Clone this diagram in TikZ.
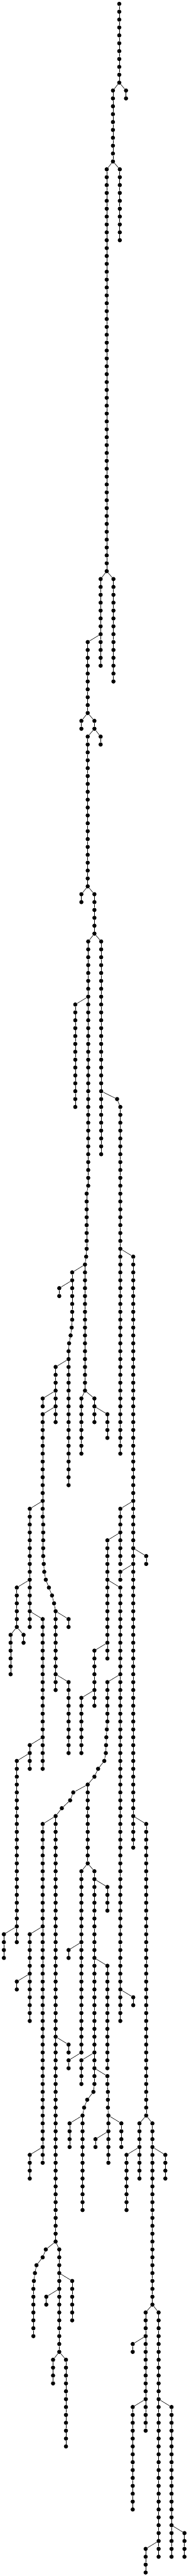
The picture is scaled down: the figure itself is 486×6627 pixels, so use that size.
\documentclass[tikz,border=0pt]{standalone}
\usepackage{tikz}
\tikzset{
	dot/.style={circle, fill=black, inner sep=0pt, minimum size=10.8pt}
}
\tikzset{
	link/.style={line width=1pt}
}
\newcommand{\rowy}[1]{-9.9-20.27*(#1)}
% straight run: [parent]{name}{x}{first row}{last row}
\newcommand{\stalk}[5][]{%
  \foreach \r in {#4,...,#5}
    \node[dot] (#2-\r) at (#3,{\rowy{\r}}) {};
  \ifx\relax#1\relax\else\draw[link] (#1) -- (#2-#4);\fi
  \foreach \r [remember=\r as \p (initially #4)] in {#4,...,#5}
    {\ifnum\r>#4\relax\draw[link] (#2-\p) -- (#2-\r);\fi}
}
% slanted run, one x per row: {name}{first row}{x list}
\newcommand{\kink}[3]{%
  \foreach \xx [count=\r from #2] in {#3}{
    \pgfmathtruncatemacro{\p}{\r-1}
    \node[dot] (#1-\r) at (\xx,{\rowy{\r}}) {};
    \draw[link] (#1-\p) -- (#1-\r);
  }
}
\begin{document}
\begin{tikzpicture}[x=1pt, y=1pt]
  \useasboundingbox (0,0) rectangle (486,-6627);
  % trunk
  \stalk{a}{307.3}{0}{10}
  \stalk[a-10]{b}{324.7}{11}{12}
  \stalk[a-10]{c}{291}{11}{20}
  \stalk[c-20]{d}{308.7}{21}{30}
  \stalk[c-20]{e}{275}{21}{72}
  \stalk[e-72]{f}{292.3}{73}{86}
  \stalk[e-72]{g}{259.3}{73}{84}
  \stalk[g-80]{h}{226}{81}{90}
  \stalk[h-90]{i}{209.7}{91}{92}
  \stalk[h-90]{j}{243.3}{91}{92}
  \stalk[j-92]{k}{259.3}{93}{94}
  \stalk[j-92]{l}{226}{93}{112}
  \stalk[l-112]{m}{209.7}{113}{114}
  \stalk[l-112]{n}{243.3}{113}{118}
  \stalk[n-118]{o}{227.3}{119}{150}
  \stalk[o-150]{o}{223.3}{151}{158}
  \kink{o}{159}{222}
  \stalk[o-159]{o}{219}{160}{176}
  \stalk[o-126]{s}{194}{127}{140}
  \stalk[n-118]{p}{260.7}{119}{146}
  \stalk[p-138]{q}{301.7}{139}{139}
  \stalk[q-139]{q}{310}{140}{184}
  \stalk[q-158]{r}{343.3}{159}{234}
  % left of o
  \stalk[o-160]{t}{186}{161}{167}
  \kink{t}{168}{184.7,182,178}
  \stalk[t-170]{t}{176.7}{171}{188}
  \stalk[t-162]{u}{152.7}{163}{164}
  \stalk[t-172]{v}{143.3}{173}{180}
  \stalk[v-176]{w}{110}{177}{178}
  \stalk[v-178]{xx}{110}{179}{192}
  \stalk[xx-192]{xx}{111.3}{193}{197}
  \kink{xx}{198}{112.7,114,118,126,134,139.3}
  \stalk[xx-203]{xx}{143.3}{204}{214}
  \stalk[xx-204]{xa}{176.7}{205}{206}
  \stalk[xx-212]{xb}{176.7}{213}{222}
  \stalk[xx-190]{yy}{76.7}{191}{206}
  \stalk[yy-200]{ya}{43.3}{201}{206}
  \stalk[ya-206]{yb}{27.3}{207}{212}
  \stalk[ya-206]{yc}{60.7}{207}{208}
  \stalk[yy-204]{yd}{110}{205}{224}
  \stalk[yd-220]{ye}{76.7}{221}{224}
  \stalk[ye-222]{yf}{43.3}{223}{246}
  \stalk[yf-244]{yg}{10}{245}{248}
  % end of o
  \stalk[o-176]{oa}{209.7}{177}{184}
  \stalk[o-176]{ob}{243.3}{177}{180}
  \stalk[ob-178]{oc}{276.7}{179}{182}
  % right side
  \stalk[r-190]{ra}{310}{191}{198}
  \stalk[ra-194]{rb}{276.7}{195}{210}
  \stalk[rb-200]{rc}{310}{201}{256}
  \stalk[rb-208]{rd}{243.3}{209}{216}
  \stalk[rd-214]{re}{209.7}{215}{222}
  \stalk[r-196]{rf}{376.7}{197}{198}
  \stalk[r-198]{rg}{310}{199}{200}
  \stalk[rc-252]{rv}{343.3}{253}{254}
  \stalk[rc-212]{rh}{276.7}{213}{218}
  \kink{rh}{219}{275.3,274,273.3,272.7,268.7,252.7,243.3}
  \stalk[rh-225]{rh}{226}{226}{236}
  \stalk[rh-226]{kk}{188.7}{227}{227}
  \kink{kk}{228}{180.7,159.3}
  \stalk[kk-229]{kk}{143.3}{230}{284}
  \stalk[rh-236]{rk}{209.7}{237}{260}
  \stalk[rh-236]{rl}{243.3}{237}{264}
  \kink{rl}{265}{240.7,224.7,216.7,212.7}
  \stalk[rl-268]{rl}{212.7}{269}{280}
  \stalk[rl-238]{rm}{276.7}{239}{242}
  \stalk[rl-248]{rn}{276.7}{249}{262}
  \stalk[rl-260]{ro}{209.7}{261}{264}
  \stalk[rl-262]{rp}{276.7}{263}{264}
  \stalk[rp-264]{rp}{278}{265}{267}
  \stalk[rp-267]{rp}{279.3}{268}{274}
  \stalk[rp-268]{rq}{312.7}{269}{272}
  \stalk[rp-270]{rr}{246}{271}{272}
  \stalk[rl-268]{rs}{179.3}{269}{272}
  \stalk[rk-246]{rt}{176.7}{247}{248}
  \stalk[rk-260]{ru}{176.7}{261}{262}
  % far right
  \stalk[r-230]{z}{376.7}{231}{268}
  \stalk[z-268]{za}{359.3}{269}{276}
  \stalk[z-268]{zb}{392.7}{269}{292}
  \stalk[za-272]{zc}{326}{273}{280}
  \stalk[zb-272]{zd}{426}{273}{276}
  \stalk[zb-292]{ze}{375.3}{293}{308}
  \stalk[zb-292]{zf}{408.7}{293}{324}
  \stalk[ze-296]{zg}{342}{297}{298}
  \stalk[ze-304]{zh}{342}{305}{318}
  \stalk[zf-304]{zi}{442}{305}{324}
  \stalk[zf-322]{zj}{375.3}{323}{326}
  \stalk[zi-320]{zk}{475.3}{321}{324}
  % left of kk
  \stalk[kk-230]{ka}{110}{231}{274}
  \stalk[ka-244]{kb}{76.7}{245}{256}
  \stalk[kb-250]{kc}{43.3}{251}{252}
  \stalk[ka-272]{kd}{76.7}{273}{276}
  \stalk[kk-258]{ke}{176.7}{259}{260}
  \stalk[kk-284]{kf}{118}{285}{285}
  \kink{kf}{286}{110,94,90,87.3}
  \stalk[kf-289]{kf}{86}{290}{296}
  \stalk[kk-284]{kg}{152.7}{285}{298}
  \stalk[kg-288]{kh}{186}{289}{294}
  \stalk[kg-290]{ki}{119.3}{291}{292}
  \stalk[kg-298]{kj}{136.7}{299}{302}
  \stalk[kg-298]{kl}{170}{299}{310}
\end{tikzpicture}
\end{document}
